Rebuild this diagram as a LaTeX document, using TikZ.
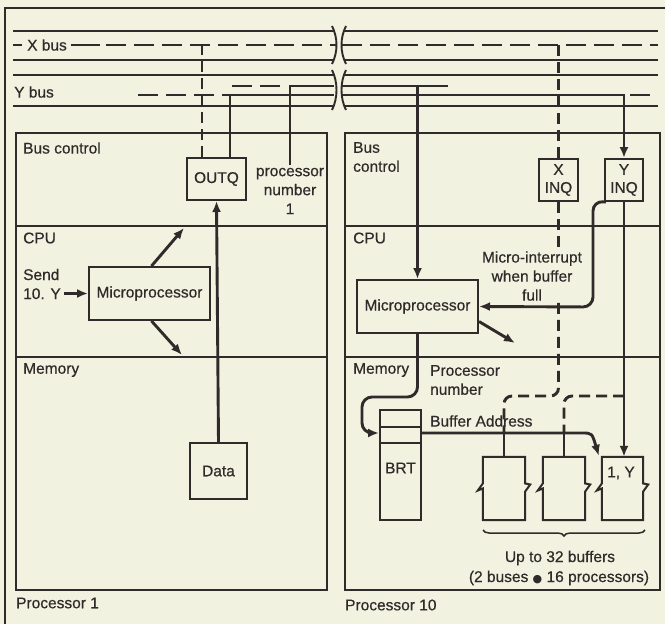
\documentclass[tikz,border=0pt]{standalone}
\usepackage{fontspec}
\setmainfont{Liberation Sans}[FakeBold=0.5]
\newfontfamily\dejavu{DejaVu Sans}
\usetikzlibrary{arrows.meta,calc,decorations.pathreplacing}
\definecolor{bg}{RGB}{241,242,223}
\definecolor{ink}{RGB}{48,42,42}
\newcommand\jagbox[1]{%
  \draw[boxline] (#1.north west) -- (#1.north east) -- ($(#1.east)+(0,-5)$) -- ($(#1.east)+(5,-4)$) -- ($(#1.east)+(0,3)$)
   -- (#1.south east) -- (#1.south west) -- ($(#1.west)+(0,0)$) -- ($(#1.west)+(-5,2)$) -- ($(#1.west)+(0,-5)$) -- cycle;}
\begin{document}
\begin{tikzpicture}[x=1pt,y=-1pt,
  every node/.style={font=\fontsize{15.5}{19}\selectfont, text=ink, inner sep=0pt},
  boxline/.style={draw=ink, line width=2pt},
  box/.style={boxline},
  pframe/.style={draw=ink, line width=2pt},
  bus/.style={draw=ink, line width=1.9pt},
  sig/.style={draw=ink, line width=2.9pt},
  dsig/.style={sig, dash pattern=on 11pt off 6pt},
  dbus/.style={bus, line width=2.2pt, dash pattern=on 20pt off 8pt},
  arr/.style={-{Latex[length=11pt,width=9pt]}},
  lbl/.style={anchor=west}]
\useasboundingbox (0,0) rectangle (665,624);
\fill[bg] (0,0) rectangle (665,624);

% outer frame
\draw[bus] (5,624) -- (5,8) -- (665,8);

% X bus
\draw[bus] (13,31) -- (334,31) (344,31) -- (658,31);
\draw[bus] (13,60) -- (334,60) (344,60) -- (658,60);
\draw[bus] (13,45) -- (22,45);
\node[lbl] (xbus) at (27,45) {X bus};
\draw[bus] (71,45) -- (100,45);
\draw[dbus] (106,45) -- (336,45) (342,45) -- (658,45);

% Y bus
\draw[bus] (13,75) -- (334,75) (344,75) -- (658,75);
\draw[bus] (13,106) -- (334,106) (344,106) -- (658,106);
\node[lbl] (ybus) at (14,92) {Y bus};
\draw[dbus] (138,95) -- (230,95);
\draw[dbus] (232,86) -- (288,86);
\draw[bus] (630,95) -- (650,95);

% breaks
\draw[bus] (332,26) .. controls (338,38) and (338,52) .. (332,64);
\draw[bus] (346,26) .. controls (340,38) and (340,52) .. (346,64);
\draw[bus] (332,70) .. controls (338,82) and (338,98) .. (332,110);
\draw[bus] (346,70) .. controls (340,82) and (340,98) .. (346,110);

% ---------------- Processor 1
\node[pframe, minimum width=311, minimum height=457] (p1) at (171.5,361.5) {};
\draw[bus] (p1.west |- 0,226) -- (p1.east |- 0,226);
\draw[bus] (p1.west |- 0,357) -- (p1.east |- 0,357);
\node[lbl] (bc1) at (23,148) {Bus control};
\node[lbl] (cpu1) at (23,238) {CPU};
\node[lbl] (mem1) at (23,370) {Memory};
\node[lbl] (pl1) at (16,603) {Processor 1};

\node[box, minimum width=59, minimum height=42] (outq) at (216.5,179) {OUTQ};
\node[align=center] (pn) at (290,191) {processor\\number\\1};
\node[box, minimum width=121, minimum height=53] (mp1) at (149.5,293.5) {Microprocessor};
\node[lbl, align=left] (send) at (23,284) {Send\\10. Y};
\node[box, minimum width=57, minimum height=56] (data) at (218.5,471) {Data};
\coordinate (a1) at (184,228);
\coordinate (a2) at (182,355);

\draw[sig,arr] ([xshift=3pt]send.east |- mp1.west) -- (mp1.west);
\draw[sig,arr] ($(mp1.north)+(2,0)$) -- (a1);
\draw[sig,arr] ($(mp1.south)+(2,0)$) -- (a2);
\draw[sig,arr] (data.north) -- (outq.south);
\draw[dsig] ([xshift=-14.5pt]outq.north) -- ([xshift=-14.5pt]outq.north |- 0,45);
\draw[sig] ([xshift=13.5pt]outq.north) -- ([xshift=13.5pt]outq.north |- 0,95) -- (334,95);
\draw[sig] ([yshift=3pt]pn.north) -- (pn.north |- 0,86) -- (334,86);

% ---------------- Processor 10
\node[pframe, minimum width=315, minimum height=457] (p10) at (502.5,361.5) {};
\draw[bus] (p10.west |- 0,226) -- (p10.east |- 0,226);
\draw[bus] (p10.west |- 0,357) -- (p10.east |- 0,357);
\node[lbl, align=left] (bc10) at (353,157) {Bus\\control};
\node[lbl] (cpu10) at (353,238) {CPU};
\node[lbl] (mem10) at (353,370) {Memory};
\node[lbl] (pl10) at (345,605) {Processor 10};

\node[box, minimum width=39, minimum height=42, align=center, font=\fontsize{15.5}{18}\selectfont] (xinq) at (558.5,180) {X\\INQ};
\node[box, minimum width=38, minimum height=42, align=center, font=\fontsize{15.5}{18}\selectfont] (yinq) at (624,180) {Y\\INQ};
\node[align=center] (mi) at (532,276) {Micro-interrupt\\when buffer\\full};
\node[box, minimum width=121, minimum height=53] (mp2) at (417.5,306.5) {Microprocessor};
\node[lbl, align=left] (pnum) at (430,380) {Processor\\number};
\node[box, minimum width=41, minimum height=110] (brt) at (400.5,465) {};
\draw[bus] (brt.west |- 0,427) -- (brt.east |- 0,427);
\draw[bus] (brt.west |- 0,443) -- (brt.east |- 0,443);
\node (brtl) at (400.5,468) {BRT};
\node[lbl] (ba) at (430,421) {Buffer Address};

\node[minimum width=42, minimum height=63] (b1) at (504,488.5) {};
\node[minimum width=42, minimum height=63] (b2) at (564,488.5) {};
\node[minimum width=41, minimum height=63] (b3) at (622.5,488.5) {};
\jagbox{b1}
\jagbox{b2}
\jagbox{b3}
\node (b3l) at (621,473) {1, Y};
\coordinate (a3) at (515,343);

% bus connections right
\draw[sig] (342,86) -- (448,86);
\draw[sig,arr] (mp2.north |- 0,86) -- (mp2.north);
\draw[sig,arr] (342,95) -- (yinq.north |- 0,95) -- (yinq.north);
\draw[dsig] (xinq.north |- 0,45) -- (xinq.north);

% CPU / memory connections
\draw[dsig] (xinq.south) -- ([yshift=3pt]xinq.south |- mi.north);
\draw[dsig, rounded corners=8pt] ([yshift=-2pt]xinq.south |- mi.south) -- (xinq.south |- 0,396) -- (b1.north |- 0,396) -- (b1.north |- 0,433);
\draw[sig] (b1.north |- 0,433) -- (b1.north);
\draw[dsig, rounded corners=8pt] (yinq.south |- 0,396) -- (b2.north |- 0,396) -- (b2.north |- 0,433);
\draw[sig] (b2.north |- 0,433) -- (b2.north);
\draw[sig, rounded corners=10pt, arr] ([xshift=2pt]yinq.south west) -- (593,201) -- (593,307) -- (mp2.east);
\draw[sig,arr] (yinq.south) -- (yinq.south |- b3.north);
\draw[sig,arr] ($(mp2.east)+(0,15)$) -- (a3);
\draw[sig, rounded corners=10pt, arr] (mp2.south) -- (mp2.south |- 0,397) -- (362,397) -- (362,433) -- (brt.west |- 0,433);
\draw[sig,arr] (brt.east |- 0,433) -- (582,433) .. controls (592,433) .. ($(b3.north west)+(-3,-1)$);

% brace and caption
\draw[bus, line width=1.5pt, decorate, decoration={brace, amplitude=6pt, mirror}] (483,530) -- (645,530);
\node (up) at (560,558) {Up to 32 buffers};
\node (ub) at (559,578) {(2 buses {\dejavu\fontsize{11}{11}\selectfont ●} 16 processors)};
\end{tikzpicture}
\end{document}
